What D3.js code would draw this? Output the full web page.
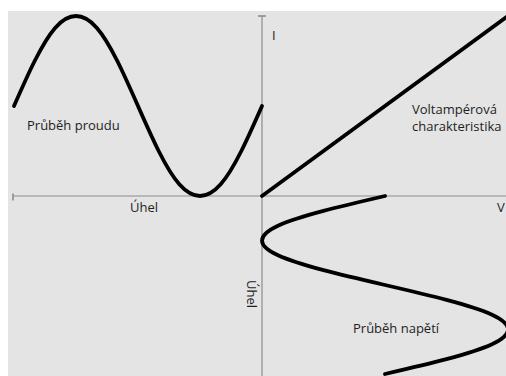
<!DOCTYPE html>
<html>
<head>
<meta charset="utf-8">
<script src="https://cdn.jsdelivr.net/npm/d3@7"></script>
<style>
  html, body { margin: 0; padding: 0; background: #ffffff; }
  svg { display: block; }
  text { font-family: "Open Sans", "Noto Sans", sans-serif; fill: #1e1e1e; }
</style>
</head>
<body>
<svg id="chart" width="506" height="376"></svg>
<script>
// ---- Data ----
// Current waveform (Průběh proudu): angle (deg, plotted leftwards) vs current (relative units)
const currentAngles = [0, 30, 60, 90, 120, 150, 180, 210, 240, 270, 300, 330, 360];
const currentValues = [1.00, 0.50, 0.13, 0.00, 0.13, 0.50, 1.00, 1.50, 1.87, 2.00, 1.87, 1.50, 1.00];

// Voltage waveform (Průběh napětí): angle (deg, plotted downwards) vs voltage (relative units)
const voltageAngles = [0, 30, 60, 90, 120, 150, 180, 210, 240, 270, 300, 330, 360];
const voltageValues = [1.00, 0.50, 0.13, 0.00, 0.13, 0.50, 1.00, 1.50, 1.87, 2.00, 1.87, 1.50, 1.00];

// Volt-ampere characteristic (Voltampérová charakteristika)
const characteristicV = [0, 2];
const characteristicI = [0, 2];

// Labels
const axisLabels = { current: "I", voltage: "V", angle: "Úhel" };
const curveLabels = ["Průběh proudu", "Voltampérová", "charakteristika", "Průběh napětí"];

// ---- Drawing ----
const W = 506, H = 376;
const svg = d3.select("#chart");

const vScale = d3.scaleLinear().domain([0, 2]).range([262, 508]);      // voltage -> x
const iScale = d3.scaleLinear().domain([0, 2]).range([196, 16]);       // current -> y
const angleX = d3.scaleLinear().domain([0, 360]).range([262, 14]);     // angle -> x (left)
const angleY = d3.scaleLinear().domain([0, 360]).range([196, 374]);    // angle -> y (down)

const x0 = vScale(0), y0 = iScale(0);

svg.append("defs").append("clipPath").attr("id", "plotclip")
  .append("rect").attr("x", 8).attr("y", 11).attr("width", W - 8).attr("height", H - 11);

// background panel
svg.append("rect")
  .attr("x", 8).attr("y", 11).attr("width", W - 8).attr("height", H - 11)
  .attr("fill", "#e4e4e4");

const axisG = svg.append("g").attr("stroke", "#8c8c8c").attr("stroke-width", 1.2).attr("fill", "none");
// horizontal axis (angle to the left, voltage to the right)
axisG.append("line").attr("x1", angleX(360) - 1).attr("x2", W).attr("y1", y0).attr("y2", y0);
axisG.append("line").attr("x1", angleX(360) - 1).attr("x2", angleX(360) - 1).attr("y1", y0 - 2.5).attr("y2", y0 + 4.5)
  .attr("stroke-width", 1.6);
// vertical axis (current up, angle down)
axisG.append("line").attr("x1", x0).attr("x2", x0).attr("y1", iScale(2)).attr("y2", H);
axisG.append("line").attr("x1", x0 - 4).attr("x2", x0 + 4).attr("y1", iScale(2)).attr("y2", iScale(2))
  .attr("stroke-width", 1.6);

const plot = svg.append("g").attr("clip-path", "url(#plotclip)");

const curveStyle = sel => sel.attr("fill", "none").attr("stroke", "#000")
  .attr("stroke-width", 3.8).attr("stroke-linecap", "round").attr("stroke-linejoin", "round");

// current waveform
const currentLine = d3.line()
  .x((d, k) => angleX(currentAngles[k]))
  .y((d, k) => iScale(currentValues[k]))
  .curve(d3.curveNatural);
plot.append("path").datum(currentAngles).attr("d", currentLine).call(curveStyle);

// voltage waveform
const voltageLine = d3.line()
  .x((d, k) => vScale(voltageValues[k]))
  .y((d, k) => angleY(voltageAngles[k]))
  .curve(d3.curveNatural);
plot.append("path").datum(voltageAngles).attr("d", voltageLine).call(curveStyle);

// characteristic
const charLine = d3.line()
  .x((d, k) => vScale(characteristicV[k]))
  .y((d, k) => iScale(characteristicI[k]));
plot.append("path").datum(characteristicV).attr("d", charLine).call(curveStyle);

// axis labels
const fs = 13;
svg.append("text").attr("x", x0 + 10).attr("y", 40).attr("font-size", fs).text(axisLabels.current);
svg.append("text").attr("x", 497).attr("y", 212).attr("font-size", fs).text(axisLabels.voltage);
svg.append("text").attr("x", 130).attr("y", 212).attr("font-size", fs).text(axisLabels.angle);
svg.append("text").attr("transform", `translate(${x0 - 15},280) rotate(90)`).attr("font-size", fs).text(axisLabels.angle);

// curve labels
svg.append("text").attr("x", 27).attr("y", 130).attr("font-size", fs).text(curveLabels[0]);
svg.append("text").attr("x", 412).attr("y", 114).attr("font-size", fs).text(curveLabels[1]);
svg.append("text").attr("x", 412).attr("y", 131).attr("font-size", fs).text(curveLabels[2]);
svg.append("text").attr("x", 353).attr("y", 333).attr("font-size", fs).text(curveLabels[3]);
</script>
</body>
</html>
